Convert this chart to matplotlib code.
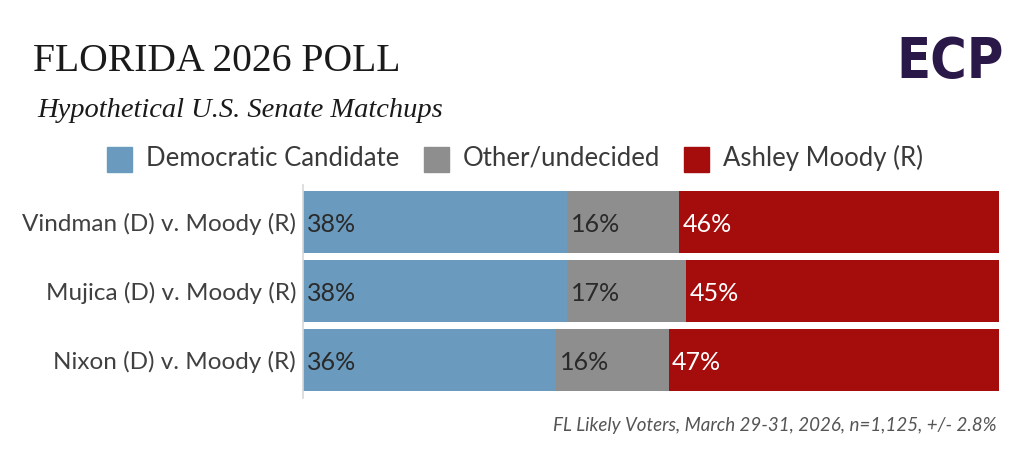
import matplotlib
matplotlib.use('Agg')
import matplotlib.pyplot as plt
from matplotlib.patches import Rectangle
import numpy as np

matchups = ['Vindman (D) v. Moody (R)', 'Mujica (D) v. Moody (R)', 'Nixon (D) v. Moody (R)']
democrat = [38, 38, 36]
other = [16, 17, 16]
moody = [46, 45, 47]
series_names = ['Democratic Candidate', 'Other/undecided', 'Ashley Moody (R)']

colors = ['#6a9abd', '#8e8e8e', '#a50d0d']
label_colors = ['#2a2a2a', '#2a2a2a', '#ffffff']
SANS = 'Lato'
SERIF = 'Liberation Serif'

fig = plt.figure(figsize=(10.24, 4.5), dpi=100)

# header
fig.text(33 / 1024, 1 - 71 / 450, 'FLORIDA 2026 POLL', family=SERIF, fontsize=28.5,
         color='#1a1a1a', va='baseline', ha='left')
fig.text(37 / 1024, 1 - 117 / 450, 'Hypothetical U.S. Senate Matchups', family=SERIF,
         style='italic', fontsize=20.5, color='#1a1a1a', va='baseline', ha='left')

# logo
fig.text(1004 / 1024, 1 - 77 / 450, 'ECP', family='DejaVu Sans', weight='bold',
         stretch='condensed', fontsize=40, color='#2a1848', va='baseline', ha='right')

# legend
leg_x = [107, 424, 684]
for x, name, c in zip(leg_x, series_names, colors):
    fig.patches.append(Rectangle((x / 1024, 1 - 172 / 450), 25 / 1024, 25 / 450,
                                 transform=fig.transFigure, color=c))
    fig.text((x + 39) / 1024, 1 - 166 / 450, name, family=SANS,
             fontsize=18.5, color='#3a3a3a', va='baseline', ha='left')

ax = fig.add_axes([303 / 1024, 1 - 398 / 450, 696 / 1024, 213 / 450])

data = np.array([democrat, other, moody], dtype=float)
shares = data / data.sum(axis=0) * 100
y = np.arange(len(matchups))
left = np.zeros(len(matchups))
for vals, raw, c, lc in zip(shares, data, colors, label_colors):
    ax.barh(y, vals, left=left, height=0.9, color=c, linewidth=0)
    for yi, l, r in zip(y, left, raw):
        ax.text(l + 0.5, yi + 0.03, f'{r:.0f}%', family=SANS, fontsize=18,
                color=lc, va='center', ha='left')
    left += vals

ax.set_xlim(0, 100)
ax.set_ylim(2.55, -0.536)
ax.set_yticks(y)
ax.set_yticklabels(matchups, family=SANS, fontsize=17.5, color='#404040')
ax.tick_params(axis='y', length=0, pad=5)
ax.set_xticks([])
for s in ['top', 'right', 'bottom']:
    ax.spines[s].set_visible(False)
ax.spines['left'].set_color('#d8d8d8')
ax.spines['left'].set_linewidth(1.2)

fig.text(997 / 1024, 1 - 425 / 450,
         'FL Likely Voters, March 29-31, 2026, n=1,125, +/- 2.8%',
         family=SANS, style='italic', fontsize=13.5, color='#555555',
         va='center', ha='right')

fig.savefig('out.png', dpi=100)
